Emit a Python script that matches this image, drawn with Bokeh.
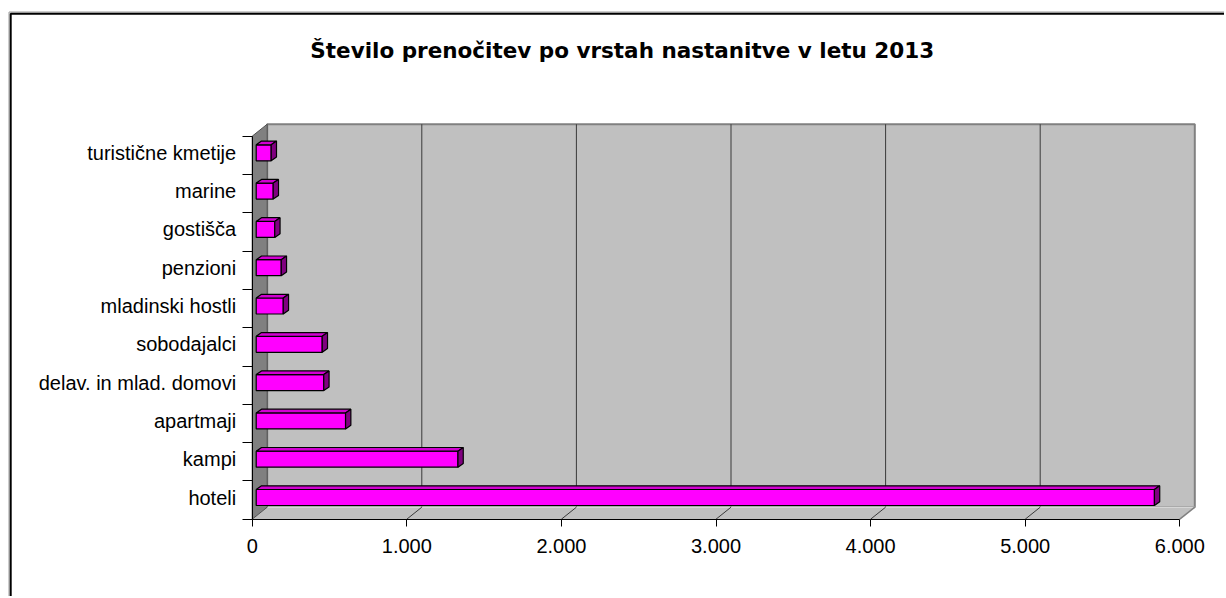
from bokeh.plotting import figure
from bokeh.models import Range1d, LinearAxis, FixedTicker, Label
from bokeh.embed import file_html
from bokeh.resources import INLINE

# ---------------- data ----------------
categories = ["hoteli", "kampi", "apartmaji", "delav. in mlad. domovi", "sobodajalci",
              "mladinski hostli", "penzioni", "gostišča", "marine", "turistične kmetije"]
nights = [5810, 1305, 578, 437, 427, 175, 162, 120, 110, 97]
x_ticks = [0, 1000, 2000, 3000, 4000, 5000, 6000]
x_tick_labels = ["0", "1.000", "2.000", "3.000", "4.000", "5.000", "6.000"]
title_text = "Število prenočitev  po vrstah nastanitve v letu 2013"

# ---------------- geometry (pixels -> data units) ----------------
W, H = 1224, 596
X0_PX, SX = 251.7, 927.6 / 6000.0      # canvas px of x=0, px per unit
Y0_PX, SY = 497.0, 38.3                # canvas px of first category, px per category


def dx(px):
    return px / SX


def dy(px):
    return px / SY


def at_x(cx):
    return (cx - X0_PX) / SX


def at_y(cy):
    return (Y0_PX - cy) / SY


n = len(categories)
idx = list(range(n))
shift = (518.7 - 497.0) / SY
lo, hi = -shift, n - shift
cat_bounds = [k - shift for k in range(n + 1)]
xmax = x_ticks[-1]

WD_X, WD_Y = dx(15), dy(12)        # wall depth
BX = dx(4)                         # bar front-face depth offset
BH = dy(16)                        # bar front face height
BDX, BDY = dx(5.3), dy(3.7)        # bar depth

p = figure(width=W, height=H, output_backend="svg", toolbar_location=None, tools="",
           x_range=Range1d(at_x(0), at_x(W)), y_range=Range1d(at_y(H), at_y(0)),
           x_axis_location=None, y_axis_location=None, min_border=0)
p.title.visible = False
p.outline_line_color = None
p.background_fill_color = "white"
p.border_fill_color = "white"
p.grid.visible = False

# chart border
p.line(x=[at_x(8.5), at_x(8.5), at_x(W + 50)], y=[at_y(H + 50), at_y(11.5), at_y(11.5)],
       line_color="#9a9a9a", line_width=1)
p.line(x=[at_x(10.2), at_x(10.2), at_x(W + 50)], y=[at_y(H + 50), at_y(13.2), at_y(13.2)],
       line_color="black", line_width=2)

# back wall
p.quad(left=WD_X, right=xmax + WD_X, bottom=lo + WD_Y, top=hi + WD_Y,
       fill_color="#C0C0C0", line_color="#808080", line_width=2)
# gridlines on back wall
gx = [t + WD_X for t in x_ticks[1:-1]]
p.segment(x0=gx, y0=[lo + WD_Y] * len(gx), x1=gx, y1=[hi + WD_Y] * len(gx),
          line_color="#3a3a3a", line_width=1)
# floor
p.patch([0, xmax, xmax + WD_X, WD_X], [lo, lo, lo + WD_Y, lo + WD_Y],
        fill_color="#C0C0C0", line_color=None)
p.line([WD_X, xmax + WD_X], [lo + WD_Y, lo + WD_Y], line_color="#E6E6E6", line_width=1)
fx = x_ticks[1:-1]
p.segment(x0=fx, y0=[lo] * len(fx), x1=[t + WD_X for t in fx], y1=[lo + WD_Y] * len(fx),
          line_color="#3a3a3a", line_width=1)
p.segment(x0=[xmax], y0=[lo], x1=[xmax + WD_X], y1=[lo + WD_Y],
          line_color="#808080", line_width=1.5)
# left side wall
p.patch([0, WD_X, WD_X, 0], [lo, lo + WD_Y, hi + WD_Y, hi],
        fill_color="#808080", line_color="#505050", line_width=1)

# bars
rights = [v + BX for v in nights]
p.quad(left=BX, right=rights, bottom=[i - BH / 2 for i in idx], top=[i + BH / 2 for i in idx],
       fill_color="#FF00FF", line_color="black", line_width=1.2)
top_xs = [[BX, r, r + BDX, BX + BDX] for r in rights]
top_ys = [[i + BH / 2, i + BH / 2, i + BH / 2 + BDY, i + BH / 2 + BDY] for i in idx]
p.patches(top_xs, top_ys, fill_color="#D200D2", line_color="black", line_width=1.2)
side_xs = [[r, r + BDX, r + BDX, r] for r in rights]
side_ys = [[i - BH / 2, i - BH / 2 + BDY, i + BH / 2 + BDY, i + BH / 2] for i in idx]
p.patches(side_xs, side_ys, fill_color="#800080", line_color="black", line_width=1.2)

# axes
xaxis = LinearAxis(fixed_location=lo, ticker=FixedTicker(ticks=x_ticks), bounds=(0, xmax))
xaxis.major_label_overrides = dict(zip(x_ticks, x_tick_labels))
xaxis.major_tick_in = 0
xaxis.major_tick_out = 7
xaxis.minor_tick_line_color = None
xaxis.axis_line_color = "black"
xaxis.major_tick_line_color = "black"
xaxis.major_label_standoff = 13
xaxis.major_label_text_font = "Liberation Sans"
xaxis.major_label_text_font_size = "20px"
xaxis.major_label_text_color = "black"
p.add_layout(xaxis, "below")

yaxis = LinearAxis(fixed_location=0, ticker=FixedTicker(ticks=idx, minor_ticks=cat_bounds),
                   bounds=(lo, hi))
yaxis.major_label_overrides = dict(zip(idx, categories))
yaxis.major_tick_line_color = None
yaxis.major_tick_in = 0
yaxis.major_tick_out = 0
yaxis.minor_tick_in = 0
yaxis.minor_tick_out = 10
yaxis.minor_tick_line_color = "black"
yaxis.axis_line_color = "black"
yaxis.major_label_standoff = 6
yaxis.major_label_text_font = "Liberation Sans"
yaxis.major_label_text_font_size = "20px"
yaxis.major_label_text_color = "black"
p.add_layout(yaxis, "left")

# title
p.add_layout(Label(x=at_x(625.5), y=at_y(50), text=title_text, text_align="center",
                   text_baseline="alphabetic", text_font="DejaVu Sans", text_font_style="bold",
                   text_font_size="21.5px", text_color="black"))

open("out.html", "w", encoding="utf-8").write(file_html(p, INLINE))
